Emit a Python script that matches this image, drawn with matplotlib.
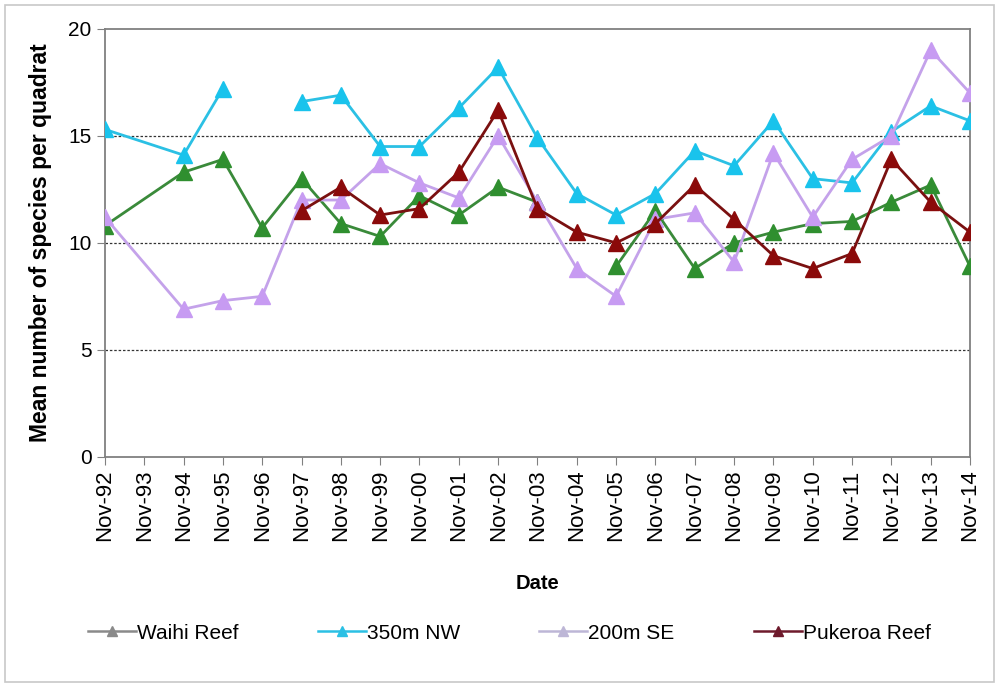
import numpy as np
import matplotlib
matplotlib.use("Agg")
import matplotlib.pyplot as plt
from matplotlib.lines import Line2D
from matplotlib.patches import Rectangle

plt.rcParams['font.family'] = ['Liberation Sans', 'DejaVu Sans']

dates = ["Nov-92", "Nov-93", "Nov-94", "Nov-95", "Nov-96", "Nov-97", "Nov-98", "Nov-99",
         "Nov-00", "Nov-01", "Nov-02", "Nov-03", "Nov-04", "Nov-05", "Nov-06", "Nov-07",
         "Nov-08", "Nov-09", "Nov-10", "Nov-11", "Nov-12", "Nov-13", "Nov-14"]
nan = np.nan
waihi = [10.8, nan, 13.3, 13.9, 10.7, 13.0, 10.9, 10.3, 12.2, 11.3, 12.6, 11.9, nan,
         8.9, 11.5, 8.8, 10.0, 10.5, 10.9, 11.0, 11.9, 12.7, 8.9]
nw350 = [15.3, nan, 14.1, 17.2, nan, 16.6, 16.9, 14.5, 14.5, 16.3, 18.2, 14.9, 12.3,
         11.3, 12.3, 14.3, 13.6, 15.7, 13.0, 12.8, 15.2, 16.4, 15.7]
se200 = [11.2, nan, 6.9, 7.3, 7.5, 12.0, 12.0, 13.7, 12.8, 12.1, 15.0, 11.9, 8.8,
         7.5, 11.1, 11.4, 9.1, 14.2, 11.2, 13.9, 15.0, 19.0, 17.0]
pukeroa = [nan, nan, nan, nan, nan, 11.5, 12.6, 11.3, 11.6, 13.3, 16.2, 11.6, 10.5,
           10.0, 10.9, 12.7, 11.1, 9.4, 8.8, 9.5, 13.9, 11.9, 10.5]

series = [
    ("Waihi Reef", waihi, "#2F8F2F", "#3A8A3A", "#8A8A8A"),
    ("350m NW", nw350, "#19C3EC", "#2BC0E4", "#2BC0E4"),
    ("200m SE", se200, "#C79BF2", "#C4A2EA", "#BDB6D6"),
    ("Pukeroa Reef", pukeroa, "#8B0A0A", "#7A1010", "#6E1A2C"),
]

fig = plt.figure(figsize=(9.99, 6.86), dpi=100)
fig.patches.append(Rectangle((0.005, 0.006), 0.99, 0.986, transform=fig.transFigure,
                             fill=False, edgecolor="#C8C8C8", linewidth=1.2))
ax = fig.add_axes([0.105, 0.334, 0.866, 0.624])

x_all = np.arange(len(dates))
data = np.array([s[1] for s in series], dtype=float)
surveyed = ~np.all(np.isnan(data), axis=0)   # drop dates with no survey at all

for name, vals, mcol, lcol, _ in series:
    v = np.array(vals, dtype=float)[surveyed]
    xx = x_all[surveyed]
    ax.plot(xx, v, color=lcol, linewidth=2.0, marker="^", markersize=11,
            markerfacecolor=mcol, markeredgecolor=mcol, zorder=3)

ax.set_xlim(0, len(dates) - 1)
ax.set_ylim(0, 20)
ax.set_yticks([0, 5, 10, 15, 20])
ax.set_xticks(x_all)
ax.set_xticklabels(dates, rotation=90, fontsize=16)
ax.tick_params(axis='y', labelsize=15, length=6, color="#808080")
ax.tick_params(axis='x', length=6, color="#808080", pad=3)
for yv in [5, 10, 15]:
    ax.axhline(yv, color="#333333", linestyle=(0, (2, 1.5)), linewidth=0.9, zorder=1)
for sp in ax.spines.values():
    sp.set_color("#808080")
    sp.set_linewidth(1.3)

ax.set_ylabel("Mean number of species per quadrat", fontsize=16.5, fontweight="bold", labelpad=12)
ax.set_xlabel("Date", fontsize=14.5, fontweight="bold", labelpad=24)

handles = [Line2D([0], [0], color=s[4], linewidth=1.8, marker="^", markersize=7,
                  markerfacecolor=s[4], markeredgecolor=s[4]) for s in series]
fig.legend(handles, [s[0] for s in series], loc="center", bbox_to_anchor=(0.51, 0.077),
           ncol=4, frameon=False, fontsize=15, handlelength=2.3, handletextpad=0.05,
           columnspacing=3.8)

fig.savefig("out.png", dpi=100)
